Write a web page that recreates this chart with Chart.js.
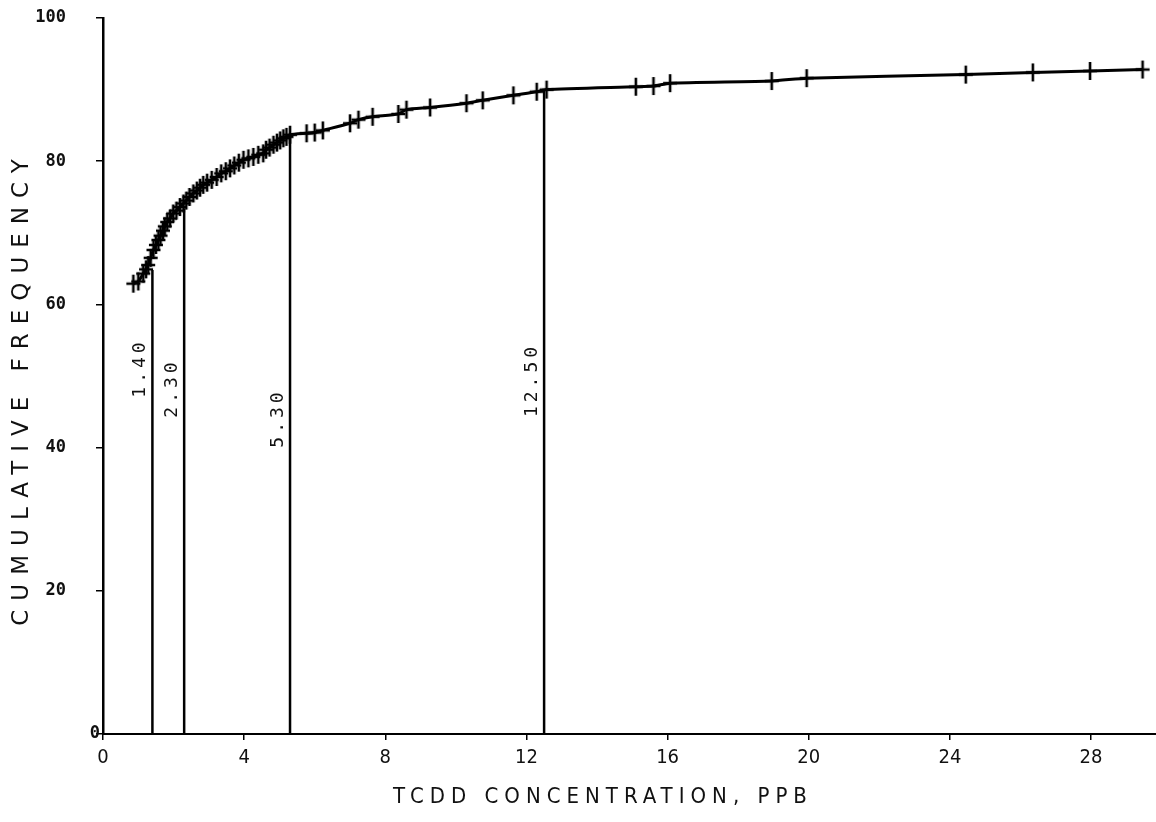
<!DOCTYPE html>
<html>
<head>
<meta charset="utf-8">
<script src="https://cdn.jsdelivr.net/npm/chart.js@4.4.0/dist/chart.umd.min.js"></script>
<style>
  html, body { margin: 0; padding: 0; background: #fff; }
  #wrap { width: 1156px; height: 822px; position: relative; }
</style>
</head>
<body>
<div id="wrap"><canvas id="tcddChart" width="1156" height="822"></canvas></div>
<script>
// Measured TCDD samples: concentration (ppb) and cumulative frequency (%)
const concentration = [
    0.86, 1.00, 1.14, 1.22, 1.28, 1.35, 1.43, 1.50, 1.57, 1.63,
    1.70, 1.75, 1.82, 1.90, 1.99, 2.08, 2.18, 2.28, 2.36, 2.45,
    2.56, 2.66, 2.75, 2.84, 2.95, 3.08, 3.22, 3.35, 3.48, 3.60,
    3.72, 3.85, 3.98, 4.12, 4.26, 4.40, 4.54, 4.62, 4.72, 4.83,
    4.93, 5.02, 5.11, 5.20, 5.30, 5.77, 6.00, 6.23, 7.00, 7.24,
    7.64, 8.37, 8.60, 9.27, 10.30, 10.76, 11.63, 12.29, 12.57, 15.10,
    15.60, 16.07, 18.95, 19.94, 24.45, 26.35, 27.97, 29.46
];
const cumulativeFrequency = [
    62.9, 63.2, 64.3, 64.9, 65.5, 66.5, 67.6, 68.3, 69.0, 69.6,
    70.3, 70.9, 71.5, 72.0, 72.7, 73.1, 73.6, 74.1, 74.5, 75.0,
    75.5, 75.9, 76.3, 76.7, 77.0, 77.4, 77.8, 78.3, 78.6, 79.0,
    79.4, 79.8, 80.2, 80.4, 80.6, 80.9, 81.1, 81.6, 81.9, 82.3,
    82.6, 82.9, 83.2, 83.4, 83.7, 83.9, 84.0, 84.3, 85.3, 85.8,
    86.2, 86.6, 87.2, 87.5, 88.1, 88.5, 89.2, 89.7, 90.0, 90.4,
    90.5, 90.9, 91.2, 91.6, 92.1, 92.4, 92.6, 92.8
];

// Marked cut-off concentrations and where each drop line meets the curve
const cutoffValues = [1.40, 2.30, 5.30, 12.50];
const cutoffTops = [64.8, 73.4, 83.7, 90.0];
const cutoffLabels = ['1.40', '2.30', '5.30', '12.50'];

// Axis ticks
const xTicks = [0, 4, 8, 12, 16, 20, 24, 28];
const yTicks = [0, 20, 40, 60, 80, 100];

// Plus-shaped marker, a bit taller than wide like the plotter crosses
function makePlusMarker() {
    const c = document.createElement('canvas');
    c.width = 16;
    c.height = 20;
    const g = c.getContext('2d');
    g.strokeStyle = '#000';
    g.lineWidth = 2.6;
    g.beginPath();
    g.moveTo(1, 10); g.lineTo(15, 10);
    g.moveTo(8, 1); g.lineTo(8, 19);
    g.stroke();
    return c;
}

const curvePoints = concentration.map((x, i) => ({ x: x, y: cumulativeFrequency[i] }));

const cutoffSets = cutoffValues.map((v, i) => ({
    data: [{ x: v, y: 0 }, { x: v, y: cutoffTops[i] }],
    borderColor: '#000',
    borderWidth: 2.5,
    pointRadius: 0,
    showLine: true
}));

// Vertical centre (px) of each drop-line caption
const captionCenterY = [368, 388, 418, 380];

const textPlugin = {
    id: 'textPlugin',
    afterDraw(chart) {
        const ctx = chart.ctx;
        const xs = chart.scales.x;
        const ys = chart.scales.y;

        // y axis title
        ctx.save();
        ctx.fillStyle = '#111';
        ctx.font = '23px "DejaVu Sans"';
        ctx.letterSpacing = '9px';
        ctx.textAlign = 'center';
        ctx.textBaseline = 'middle';
        ctx.translate(22, 388);
        ctx.rotate(-Math.PI / 2);
        ctx.fillText('CUMULATIVE FREQUENCY', 0, 0);
        ctx.restore();

        // x axis title
        ctx.save();
        ctx.fillStyle = '#111';
        ctx.font = '22px "Liberation Sans Narrow", "DejaVu Sans Condensed", sans-serif';
        ctx.letterSpacing = '6px';
        ctx.textAlign = 'center';
        ctx.textBaseline = 'middle';
        ctx.fillText('TCDD CONCENTRATION, PPB', 603, 797);
        ctx.restore();

        // y "0" sits right against the axis
        ctx.save();
        ctx.fillStyle = '#111';
        ctx.font = 'bold 17px "DejaVu Sans Mono"';
        ctx.textAlign = 'right';
        ctx.textBaseline = 'middle';
        ctx.fillText('0', xs.getPixelForValue(0) - 3, ys.getPixelForValue(0));
        ctx.restore();

        // captions beside each drop line
        cutoffValues.forEach((v, i) => {
            ctx.save();
            ctx.fillStyle = '#111';
            ctx.font = '18px "DejaVu Sans Mono"';
            ctx.letterSpacing = '4px';
            ctx.textAlign = 'center';
            ctx.textBaseline = 'bottom';
            ctx.translate(xs.getPixelForValue(v) - 3, captionCenterY[i]);
            ctx.rotate(-Math.PI / 2);
            ctx.fillText(cutoffLabels[i], 0, 0);
            ctx.restore();
        });
    }
};

const ctx = document.getElementById('tcddChart').getContext('2d');
new Chart(ctx, {
    type: 'scatter',
    data: {
        datasets: [{
            data: curvePoints,
            showLine: true,
            borderColor: '#000',
            borderWidth: 3,
            tension: 0.2,
            pointStyle: makePlusMarker(),
            pointRadius: 8,
            pointBackgroundColor: '#000'
        }].concat(cutoffSets)
    },
    options: {
        responsive: false,
        animation: false,
        layout: { autoPadding: false, padding: { top: 18, right: 0, left: 0, bottom: 0 } },
        plugins: {
            legend: { display: false },
            tooltip: { enabled: false }
        },
        scales: {
            x: {
                type: 'linear',
                min: 0,
                max: 29.84,
                afterBuildTicks: scale => { scale.ticks = xTicks.map(v => ({ value: v })); },
                afterFit: scale => {
                    scale.height = 88;
                    scale.paddingLeft = 0;
                    scale.paddingRight = 0;
                },
                border: { display: true, color: '#000', width: 2 },
                grid: { display: true, drawOnChartArea: false, drawTicks: true, tickLength: 6, color: '#000', lineWidth: 1.5 },
                ticks: {
                    color: '#111',
                    padding: 6,
                    maxRotation: 0,
                    font: { family: '"Liberation Sans Narrow", "DejaVu Sans Condensed", sans-serif', size: 20 }
                }
            },
            y: {
                min: 0,
                max: 100,
                afterBuildTicks: scale => { scale.ticks = yTicks.map(v => ({ value: v })); },
                afterFit: scale => {
                    scale.width = 103;
                    scale.paddingTop = 0;
                    scale.paddingBottom = 0;
                },
                border: { display: true, color: '#000', width: 2.5 },
                grid: { display: true, drawOnChartArea: false, drawTicks: true, tickLength: 7, color: '#000', lineWidth: 1.5 },
                ticks: {
                    color: '#111',
                    padding: 30,
                    font: { family: '"DejaVu Sans Mono"', size: 17, weight: 'bold' },
                    callback: v => (v === 0 ? '' : v)
                }
            }
        }
    },
    plugins: [textPlugin]
});
</script>
</body>
</html>
